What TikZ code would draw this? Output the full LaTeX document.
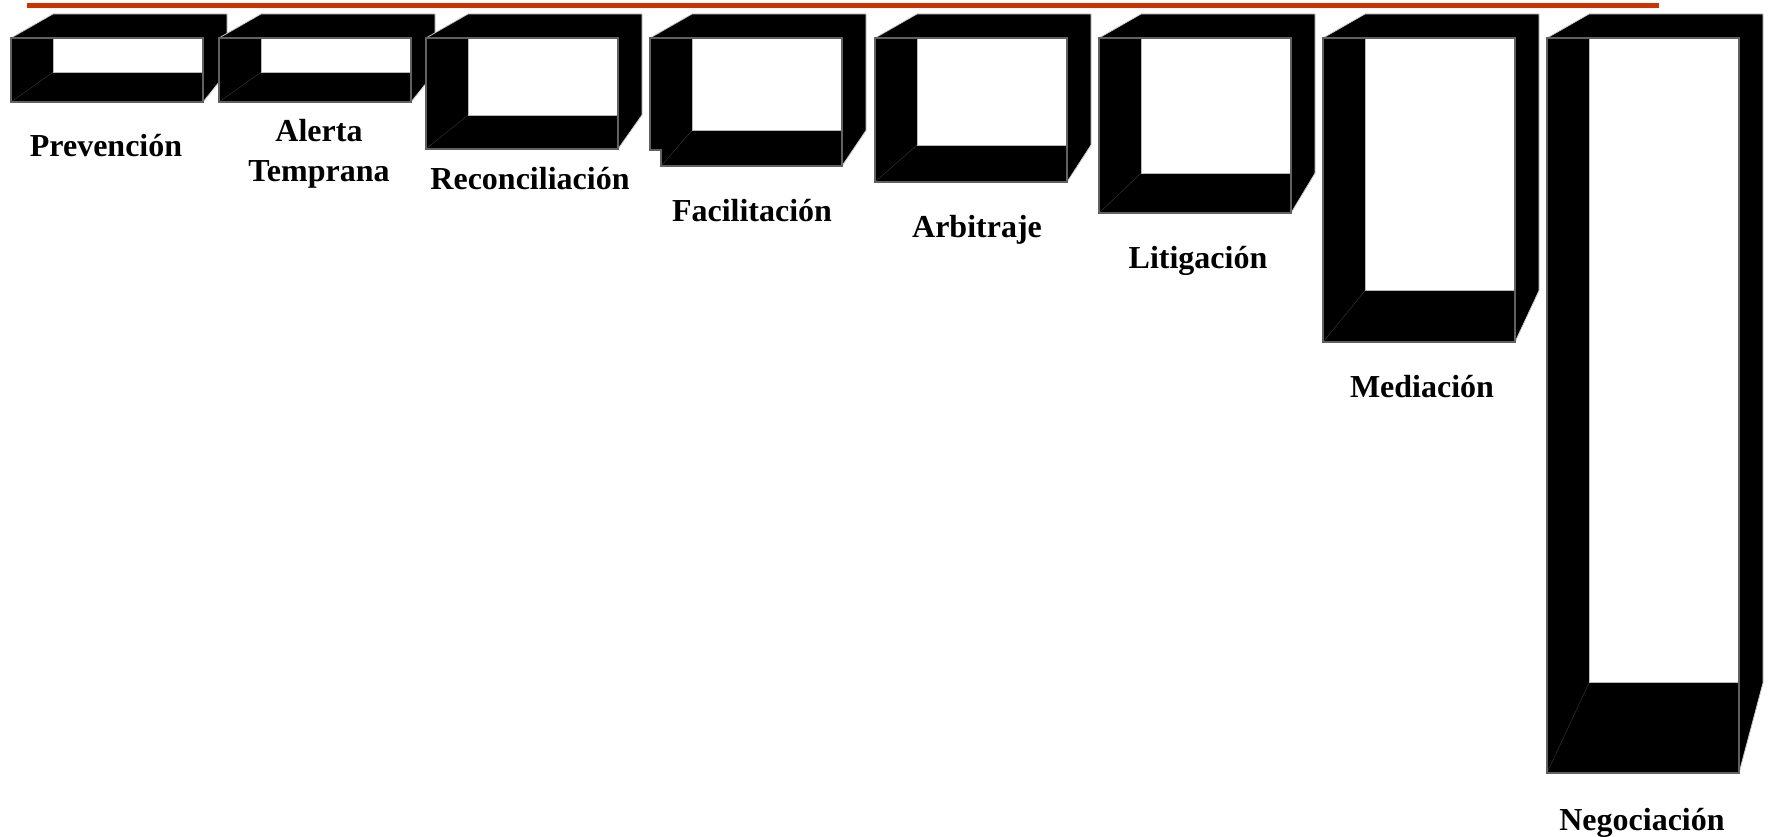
\documentclass[tikz,border=0pt]{standalone}
\usepackage{fontspec}
\setmainfont{Liberation Serif}
\usepackage{xcolor}
\usepackage{tikz}
\usetikzlibrary{positioning}

\definecolor{rojo}{RGB}{204,51,0}

\begin{document}
\begin{tikzpicture}[x=1pt, y=-1pt,
    silueta/.style={fill=black, draw=gray!40, line width=0.8pt, line join=miter},
    fondo/.style={fill=white, draw=gray!55, line width=0.8pt},
    frente/.style={draw=black!62, line width=1.7pt},
    arista/.style={draw=gray!45!black, line width=0.4pt},
    etiqueta/.style={font=\bfseries\fontsize{32}{40}\selectfont, align=center, anchor=base}]

    \useasboundingbox (0,0) rectangle (1770,837);

    % top rule
    \draw[rojo, line width=5pt] (27,6) -- (1659,6);

    % open boxes: front left / front bottom / notch w / notch h
    \foreach \xa/\yf/\nx/\ny/\id in {11/102/0/0/prev, 219/102/0/0/alerta, 426/149/0/0/recon,
        650/166/11/16/facil, 875/182/0/0/arbit, 1099/213/0/0/litig, 1323/342/0/0/media,
        1547/773/0/0/nego}{
      \pgfmathsetmacro{\xb}{\xa+192}
      \pgfmathsetmacro{\yb}{14+0.91*(\yf-38)}
      \pgfmathsetmacro{\yn}{\yf-\ny}
      \draw[silueta] (\xa,38) -- (\xa+42,14) -- (\xb+24,14) -- (\xb+24,\yb) -- (\xb,\yf)
        -- (\xa+\nx,\yf) -- (\xa+\nx,\yn) -- (\xa,\yn) -- cycle;
      \draw[fondo] (\xa+42,38) rectangle (\xb,\yb);
      \draw[arista] (\xa+\nx,\yf) -- (\xa+42,\yb);
      \draw[frente] (\xa,38) -- (\xb,38) -- (\xb,\yf) -- (\xa+\nx,\yf)
        -- (\xa+\nx,\yn) -- (\xa,\yn) -- cycle;
    }

    % labels (base = last line)
    \foreach \lx/\ly/\id/\txt in {106/157/prev/Prevención, 319/182/alerta/{Alerta\\Temprana},
        530/190/recon/Reconciliación, 752/222/facil/Facilitación, 977/237/arbit/Arbitraje,
        1198/269/litig/Litigación, 1422/397/media/Mediación, 1642/830/nego/Negociación}{
      \node[etiqueta] (lbl-\id) at (\lx,\ly) {\txt};
    }
\end{tikzpicture}
\end{document}
